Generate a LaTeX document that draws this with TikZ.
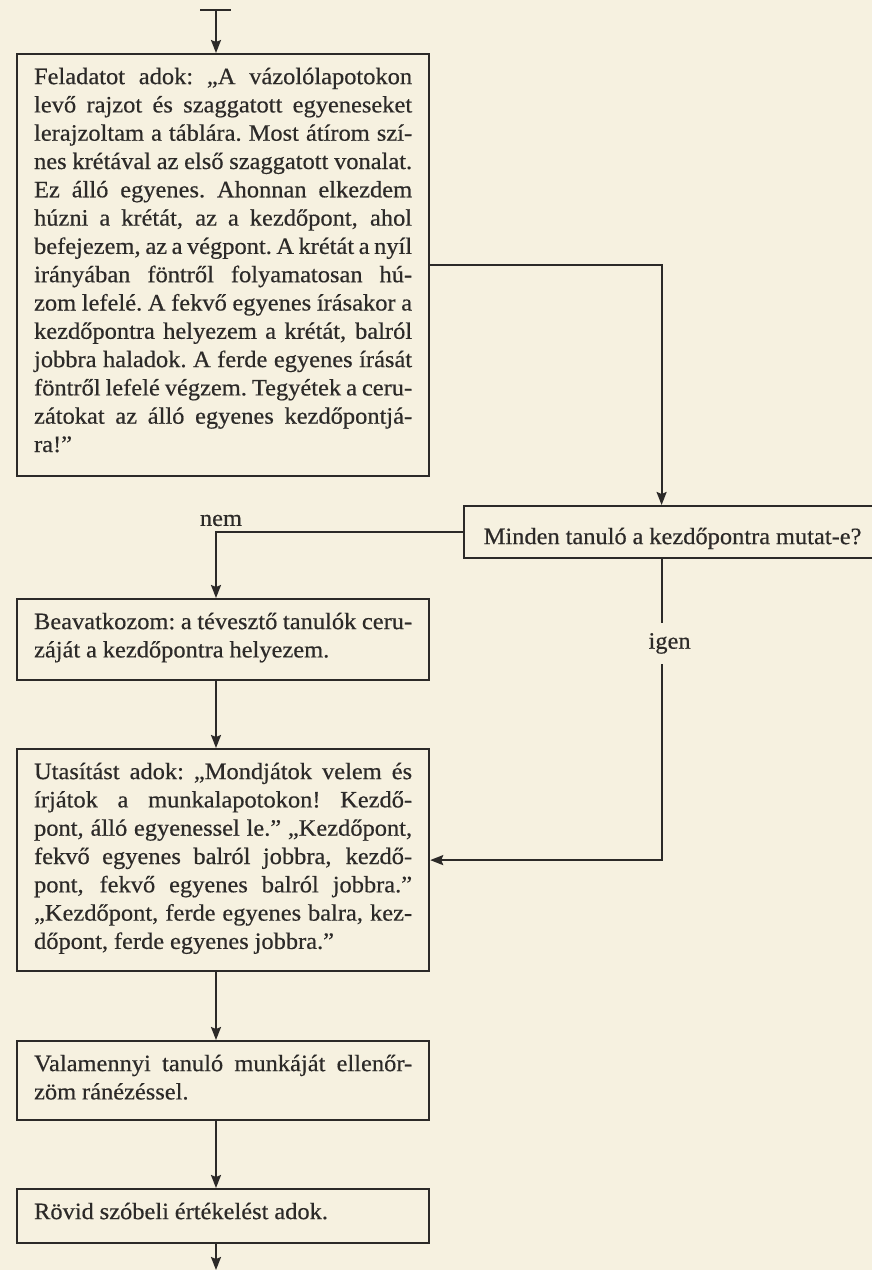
\documentclass[tikz,border=0pt]{standalone}
\usepackage{fontspec}
\setmainfont[FakeStretch=1.04,FakeBold=0.5]{Liberation Serif}
\usetikzlibrary{arrows.meta}

\definecolor{paper}{RGB}{246,241,224}
\definecolor{ink}{RGB}{44,42,40}

% width of the text column inside the step boxes
\newlength\tw
\setlength\tw{378pt}
\newcommand\bodyfont{\fontsize{23.5pt}{28.3pt}\selectfont}
% interword glue used in the boxes (the node's own ragged setting has none)
\newcommand\wordglue{\spaceskip=0.25em plus 1em minus 0.07em\xspaceskip=\spaceskip}
% one justified line of a box, and a last line set at natural width
\newcommand\jl[1]{{\wordglue\makebox[\tw][s]{#1}}}
\newcommand\nl[1]{{\wordglue#1}}
% distance from a box top to its first baseline, and below the last line
\newcommand\topgap{\rule{0pt}{30pt}}
\newcommand\botgap[1]{\rule[-#1pt]{0pt}{#1pt}}

\begin{document}
\begin{tikzpicture}[x=1pt,y=-1pt,
  stepbox/.style={draw=ink, line width=2.2pt, inner xsep=17pt, inner ysep=0pt,
    text width=\tw, align=left, anchor=north west, text=ink, font=\bodyfont},
  testbox/.style={draw=ink, line width=2.2pt, inner xsep=17pt, inner ysep=0pt,
    minimum width=417pt, anchor=north west, text=ink, font=\bodyfont},
  flow/.style={draw=ink, line width=2pt, -{Stealth[length=13pt,width=10pt,inset=2pt]}},
  bar/.style={draw=ink, line width=1.2pt},
  lbl/.style={text=ink, font=\bodyfont}]

\fill[paper] (0,0) rectangle (872,1270);
\useasboundingbox (0,0) rectangle (872,1270);

% flow entry and exit points on the main spine
\coordinate (src) at (216,10);
\coordinate (barL) at (200,10);
\coordinate (barR) at (231,10);
\coordinate (sink) at (216,1270);

\node[stepbox] (task) at (16,53) {%
\topgap\jl{Feladatot adok: „A vázolólapotokon}\\
\jl{levő rajzot és szaggatott egyeneseket}\\
\jl{lerajzoltam a táblára. Most átírom szí-}\\
\jl{nes krétával az első szaggatott vonalat.}\\
\jl{Ez álló egyenes. Ahonnan elkezdem}\\
\jl{húzni a krétát, az a kezdőpont, ahol}\\
\jl{befejezem, az a végpont. A krétát a nyíl}\\
\jl{irányában föntről folyamatosan hú-}\\
\jl{zom lefelé. A fekvő egyenes írásakor a}\\
\jl{kezdőpontra helyezem a krétát, balról}\\
\jl{jobbra haladok. A ferde egyenes írását}\\
\jl{föntről lefelé végzem. Tegyétek a ceru-}\\
\jl{zátokat az álló egyenes kezdőpontjá-}\\
\nl{ra!”}\botgap{24.1}};

\node[testbox] (check) at (463,505) {\rule{0pt}{38pt}\nl{Minden tanuló a kezdőpontra mutat-e?}\botgap{14}};

\node[stepbox] (fix) at (16,598) {%
\topgap\jl{Beavatkozom: a tévesztő tanulók ceru-}\\
\nl{záját a kezdőpontra helyezem.}\botgap{22.7}};

\node[stepbox] (say) at (16,748) {%
\topgap\jl{Utasítást adok: „Mondjátok velem és}\\
\jl{írjátok a munkalapotokon! Kezdő-}\\
\jl{pont, álló egyenessel le.” „Kezdőpont,}\\
\jl{fekvő egyenes balról jobbra, kezdő-}\\
\jl{pont, fekvő egyenes balról jobbra.”}\\
\jl{„Kezdőpont, ferde egyenes balra, kez-}\\
\nl{dőpont, ferde egyenes jobbra.”}\botgap{22.2}};

\node[stepbox] (look) at (16,1040) {%
\topgap\jl{Valamennyi tanuló munkáját ellenőr-}\\
\nl{zöm ránézéssel.}\botgap{20.7}};

\node[stepbox] (rate) at (16,1188) {%
\topgap\nl{Rövid szóbeli értékelést adok.}\botgap{24}};

% connectors
\draw[bar] (barL) -- (barR);
\draw[flow] (src) -- (task.north -| src);
\draw[flow] (task.east) -| ([xshift=-11pt]check.north);
\draw[flow] (check.west) -| (fix.north -| src)
  node[lbl, pos=0.5, anchor=south, inner sep=0pt, xshift=5pt, yshift=5pt] (no) {\nl{nem}};
\draw[flow] (fix.south -| src) -- (say.north -| src);
\draw[flow] ([xshift=-11pt]check.south) |- (say.east)
  node[lbl, pos=0.14, fill=paper, inner xsep=3pt, inner ysep=10pt, xshift=8pt] (yes) {\nl{igen}};
\draw[flow] (say.south -| src) -- (look.north -| src);
\draw[flow] (look.south -| src) -- (rate.north -| src);
\draw[flow] (rate.south -| src) -- (sink);

\end{tikzpicture}
\end{document}
